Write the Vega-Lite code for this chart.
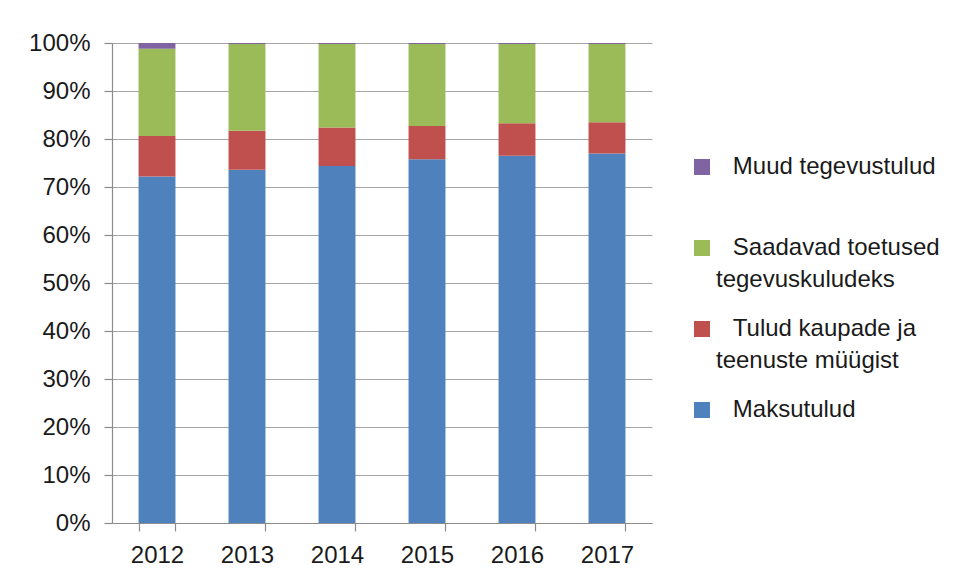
{
  "$schema": "https://vega.github.io/schema/vega-lite/v6.json",
  "width": 540,
  "height": 480,
  "autosize": {"type": "none"},
  "padding": {"left": 112, "top": 43, "right": 310, "bottom": 60},
  "background": "white",
  "config": {
    "view": {"stroke": null},
    "font": "Liberation Sans",
    "axis": {"labelFont": "Liberation Sans", "labelColor": "#1a1a1a", "labelFontSize": 24, "domainColor": "#8c8c8c", "tickColor": "#8c8c8c", "gridColor": "#a6a6a6", "tickSize": 8, "domainWidth": 1.2, "tickWidth": 1.2, "gridWidth": 1.2},
    "legend": {"labelFont": "Liberation Sans", "labelColor": "#1a1a1a"},
    "style": {"guide-label": {"lineHeight": 32}}
  },
  "data": {
    "values": [
      {"year": "2012", "cat": "Maksutulud", "value": 72.2, "o": 1},
      {"year": "2012", "cat": "Tulud kaupade ja teenuste müügist", "value": 8.4, "o": 2},
      {"year": "2012", "cat": "Saadavad toetused tegevuskuludeks", "value": 18.2, "o": 3},
      {"year": "2012", "cat": "Muud tegevustulud", "value": 1.2, "o": 4},
      {"year": "2013", "cat": "Maksutulud", "value": 73.6, "o": 1},
      {"year": "2013", "cat": "Tulud kaupade ja teenuste müügist", "value": 8.1, "o": 2},
      {"year": "2013", "cat": "Saadavad toetused tegevuskuludeks", "value": 18.1, "o": 3},
      {"year": "2013", "cat": "Muud tegevustulud", "value": 0.2, "o": 4},
      {"year": "2014", "cat": "Maksutulud", "value": 74.4, "o": 1},
      {"year": "2014", "cat": "Tulud kaupade ja teenuste müügist", "value": 8.0, "o": 2},
      {"year": "2014", "cat": "Saadavad toetused tegevuskuludeks", "value": 17.4, "o": 3},
      {"year": "2014", "cat": "Muud tegevustulud", "value": 0.2, "o": 4},
      {"year": "2015", "cat": "Maksutulud", "value": 75.8, "o": 1},
      {"year": "2015", "cat": "Tulud kaupade ja teenuste müügist", "value": 6.9, "o": 2},
      {"year": "2015", "cat": "Saadavad toetused tegevuskuludeks", "value": 17.1, "o": 3},
      {"year": "2015", "cat": "Muud tegevustulud", "value": 0.2, "o": 4},
      {"year": "2016", "cat": "Maksutulud", "value": 76.5, "o": 1},
      {"year": "2016", "cat": "Tulud kaupade ja teenuste müügist", "value": 6.8, "o": 2},
      {"year": "2016", "cat": "Saadavad toetused tegevuskuludeks", "value": 16.5, "o": 3},
      {"year": "2016", "cat": "Muud tegevustulud", "value": 0.2, "o": 4},
      {"year": "2017", "cat": "Maksutulud", "value": 77.0, "o": 1},
      {"year": "2017", "cat": "Tulud kaupade ja teenuste müügist", "value": 6.5, "o": 2},
      {"year": "2017", "cat": "Saadavad toetused tegevuskuludeks", "value": 16.3, "o": 3},
      {"year": "2017", "cat": "Muud tegevustulud", "value": 0.2, "o": 4}
    ]
  },
  "mark": {"type": "bar"},
  "encoding": {
    "x": {
      "field": "year", "type": "ordinal",
      "scale": {"paddingInner": 0.59, "paddingOuter": 0.295},
      "axis": {"title": null, "labelAngle": 0, "tickBand": "extent", "labelPadding": 12, "domain": true, "grid": false}
    },
    "y": {
      "field": "value", "type": "quantitative", "stack": "normalize",
      "scale": {"domain": [0, 1], "nice": false},
      "axis": {"title": null, "format": ".0%", "values": [0, 0.1, 0.2, 0.3, 0.4, 0.5, 0.6, 0.7, 0.8, 0.9, 1], "labelPadding": 14, "grid": true}
    },
    "order": {"field": "o", "type": "quantitative"},
    "color": {
      "field": "cat", "type": "nominal",
      "scale": {
        "domain": ["Muud tegevustulud", "Saadavad toetused tegevuskuludeks", "Tulud kaupade ja teenuste müügist", "Maksutulud"],
        "range": ["#8064A2", "#9BBB59", "#C0504D", "#4F81BD"]
      },
      "legend": {
        "title": null,
        "orient": "none",
        "legendX": 578,
        "legendY": 112,
        "symbolType": "square",
        "symbolSize": 256,
        "symbolStrokeWidth": 0,
        "labelFontSize": 24,
        "labelOffset": 2,
        "labelLimit": 400,
        "labelBaseline": "middle",
        "gridAlign": "all",
        "rowPadding": 25,
        "labelExpr": "datum.label == 'Saadavad toetused tegevuskuludeks' ? ['\u200b\u2002\u2009Saadavad toetused', 'tegevuskuludeks'] : datum.label == 'Tulud kaupade ja teenuste müügist' ? ['\u200b\u2002\u2009Tulud kaupade ja', 'teenuste müügist'] : '\u200b\u2002\u2009' + datum.label"
      }
    }
  }
}
